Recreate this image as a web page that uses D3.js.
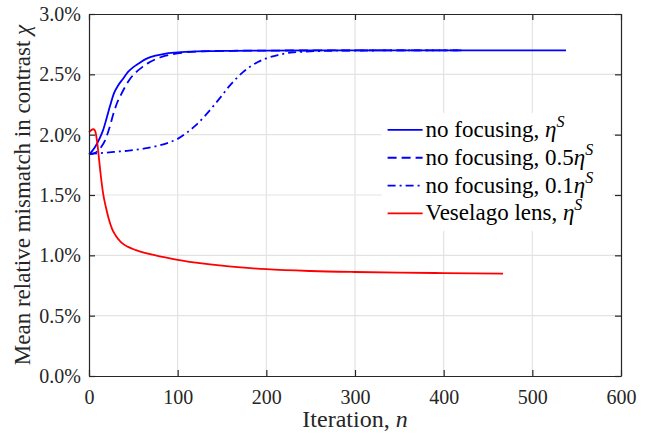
<!DOCTYPE html>
<meta charset="utf-8">
<style>
  body { margin: 0; background: #fff; }
  svg, svg text, svg tspan { font-family: 'Times New Roman', 'Liberation Serif', serif !important; }
</style>
<script src="https://d3js.org/d3.v7.min.js"></script>
<body>
<div id="chart"></div>
<script>

// iteration n and mean relative mismatch (%) for each run
var iterSolid = [0, 3, 7, 12, 16, 20, 24, 28, 33, 38, 44, 50, 56, 65, 75, 85, 97, 115, 131, 160, 200, 300, 400, 538];
var chiSolid  = [1.837, 1.86, 1.90, 1.97, 2.04, 2.14, 2.245, 2.34, 2.41, 2.46, 2.52, 2.56, 2.59, 2.63, 2.655, 2.67, 2.68, 2.688, 2.692, 2.695, 2.697, 2.698, 2.698, 2.698];

var iterHalf = [0, 5, 10, 14, 18, 21, 24, 27, 31, 36, 41, 46, 52, 60, 67, 75, 82, 95, 110, 130, 160, 200, 300, 420];
var chiHalf  = [1.837, 1.845, 1.865, 1.90, 1.95, 2.01, 2.08, 2.16, 2.25, 2.33, 2.40, 2.46, 2.51, 2.56, 2.595, 2.625, 2.645, 2.668, 2.683, 2.691, 2.695, 2.697, 2.698, 2.698];

var iterTenth = [0, 10, 18, 30, 45, 63, 80, 90, 100, 110, 120, 130, 140, 150, 158, 166, 174, 182, 190, 200, 213, 227, 249, 270, 300, 350, 420];
var chiTenth  = [1.837, 1.845, 1.85, 1.858, 1.868, 1.886, 1.912, 1.935, 1.965, 2.015, 2.075, 2.15, 2.235, 2.325, 2.40, 2.465, 2.52, 2.565, 2.60, 2.632, 2.66, 2.68, 2.69, 2.695, 2.697, 2.698, 2.698];

var iterLens = [0, 2, 5, 7, 9, 11, 13, 16, 19, 22, 26, 30, 36, 44, 53, 63, 75, 86, 100, 125, 150, 175, 200, 250, 300, 350, 400, 467];
var chiLens  = [2.02, 2.035, 2.045, 2.03, 1.95, 1.82, 1.68, 1.51, 1.40, 1.31, 1.22, 1.165, 1.11, 1.07, 1.043, 1.021, 1.0, 0.983, 0.963, 0.935, 0.914, 0.898, 0.885, 0.87, 0.862, 0.857, 0.853, 0.848];

var xTicks = [0, 100, 200, 300, 400, 500, 600];
var yTicks = [0, 0.5, 1.0, 1.5, 2.0, 2.5, 3.0];

var series = [
  { name: "no focusing, ", scale: "",     n: iterSolid, v: chiSolid, color: "#0000ff", dash: null },
  { name: "no focusing, ", scale: "0.5",  n: iterHalf,  v: chiHalf,  color: "#0000ff", dash: "9,5" },
  { name: "no focusing, ", scale: "0.1",  n: iterTenth, v: chiTenth, color: "#0000ff", dash: "8,4,2,4" },
  { name: "Veselago lens, ", scale: "",   n: iterLens,  v: chiLens,  color: "#ff0000", dash: null }
];

var INK = "#262626";
var FACE = "Times New Roman";

var W = 652, H = 437;
var margin = {top: 14, right: 31, bottom: 61, left: 89},
    width = W - margin.left - margin.right,
    height = H - margin.top - margin.bottom;

var svg = d3.select("#chart").append("svg")
    .attr("width", W)
    .attr("height", H)
    .attr("font-family", FACE)
    .style("display", "block")
  .append("g")
    .attr("transform", "translate(" + margin.left + "," + margin.top + ")");

var x = d3.scaleLinear().domain([0, 600]).range([0, width]);
var y = d3.scaleLinear().domain([0, 3]).range([height, 0]);

// grid
svg.append("g").selectAll("line.gx")
  .data(xTicks.slice(1, -1)).enter().append("line")
    .attr("x1", d => x(d)).attr("x2", d => x(d))
    .attr("y1", 0).attr("y2", height)
    .attr("stroke", "#e3e3e3").attr("stroke-width", 1.2);
svg.append("g").selectAll("line.gy")
  .data(yTicks.slice(1, -1)).enter().append("line")
    .attr("x1", 0).attr("x2", width)
    .attr("y1", d => y(d)).attr("y2", d => y(d))
    .attr("stroke", "#e3e3e3").attr("stroke-width", 1.2);

// curves
var line = d3.line()
    .x(d => x(d[0]))
    .y(d => y(d[1]))
    .curve(d3.curveMonotoneX);

series.forEach(function(s) {
  svg.append("path")
    .datum(s.n.map((n, i) => [n, s.v[i]]))
    .attr("fill", "none")
    .attr("stroke", s.color)
    .attr("stroke-width", 1.8)
    .attr("stroke-dasharray", s.dash)
    .attr("d", line);
});

// axes: box with inward ticks on all sides
function styleAxis(g) {
  g.attr("font-family", FACE).attr("font-size", 20);
  g.select(".domain").attr("stroke", INK).attr("stroke-width", 1.2);
  g.selectAll(".tick line").attr("stroke", INK).attr("stroke-width", 1.2);
  g.selectAll("text").attr("font-family", FACE).attr("fill", INK);
}

svg.append("g")
    .attr("transform", "translate(0," + height + ")")
    .call(d3.axisBottom(x).tickValues(xTicks).tickSizeInner(-6).tickSizeOuter(0).tickPadding(14))
    .call(styleAxis);
svg.append("g")
    .call(d3.axisTop(x).tickValues(xTicks).tickSizeInner(-6).tickSizeOuter(0).tickFormat(""))
    .call(styleAxis);
svg.append("g")
    .call(d3.axisLeft(y).tickValues(yTicks).tickSizeInner(-6).tickSizeOuter(0).tickPadding(8)
      .tickFormat(d => d3.format(".1f")(d) + "%"))
    .call(styleAxis);
svg.append("g")
    .attr("transform", "translate(" + width + ",0)")
    .call(d3.axisRight(y).tickValues(yTicks).tickSizeInner(-6).tickSizeOuter(0).tickFormat(""))
    .call(styleAxis);

// axis labels
var xl = svg.append("text")
    .attr("x", width / 2)
    .attr("y", height + 51)
    .attr("text-anchor", "middle")
    .attr("fill", INK)
    .attr("font-family", FACE)
    .attr("font-size", 24);
xl.append("tspan").text("Iteration, ");
xl.append("tspan").attr("font-style", "italic").text("n");

var yl = svg.append("text")
    .attr("transform", "rotate(-90)")
    .attr("x", -height / 2)
    .attr("y", -59)
    .attr("text-anchor", "middle")
    .attr("fill", INK)
    .attr("font-family", FACE)
    .attr("font-size", 23);
yl.append("tspan").text("Mean relative mismatch in contrast ");
yl.append("tspan").attr("font-style", "italic").text("χ");

// legend
var lg = svg.append("g").attr("transform", "translate(" + x(330) + "," + y(2.18) + ")");
lg.append("rect")
    .attr("x", 0).attr("y", 0)
    .attr("width", 231).attr("height", 118)
    .attr("fill", "#fff");

var item = lg.selectAll(".item")
  .data(series).enter().append("g")
    .attr("transform", (d, i) => "translate(0," + (i * 27.8) + ")");

item.append("line")
    .attr("x1", 6).attr("x2", 41)
    .attr("y1", 17).attr("y2", 17)
    .attr("stroke", d => d.color)
    .attr("stroke-width", 1.8)
    .attr("stroke-dasharray", d => d.dash);

var lt = item.append("text")
    .attr("x", 44)
    .attr("y", 24)
    .attr("fill", "#000")
    .attr("font-family", FACE)
    .attr("font-size", 23);
lt.append("tspan").text(d => d.name + d.scale);
lt.append("tspan").attr("font-style", "italic").text("η");
lt.append("tspan").attr("font-style", "italic").attr("font-size", 16)
    .attr("dy", -10).text("S");

</script>
</body>
